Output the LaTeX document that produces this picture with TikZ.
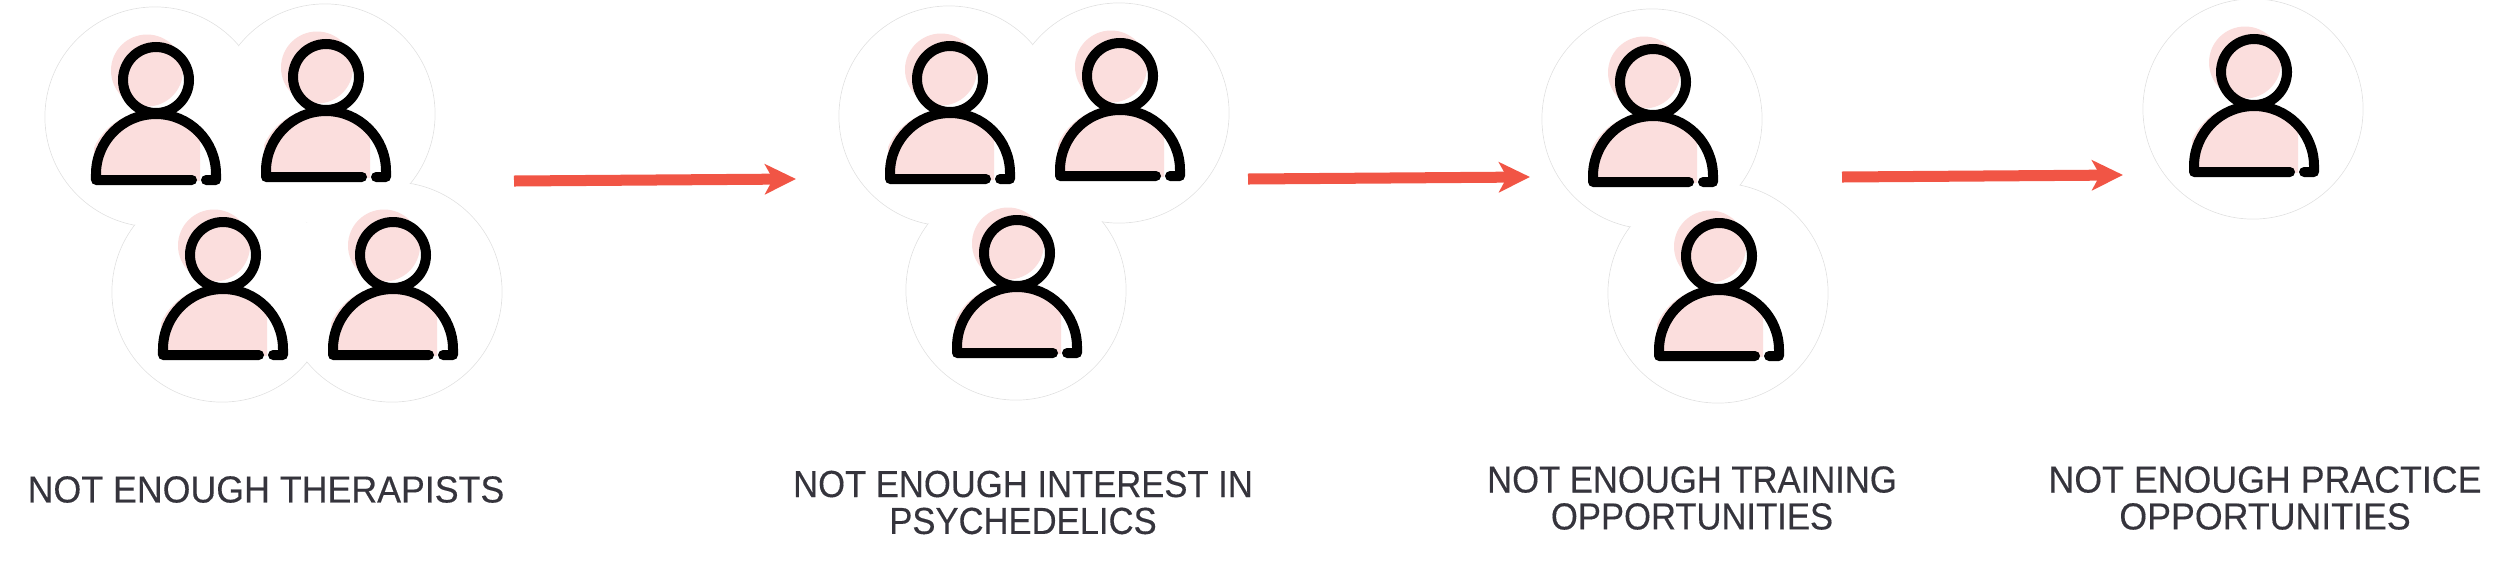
\documentclass[tikz,border=0pt]{standalone}
\usepackage{fontspec}
\setmainfont[FakeStretch=0.95,FakeBold=0.3]{Liberation Sans}
\newfontfamily\tighter[FakeStretch=0.92,FakeBold=0.3]{Liberation Sans}
\usetikzlibrary{arrows.meta}
\definecolor{blush}{HTML}{FBDEDD}
\definecolor{coral}{HTML}{F15545}
\definecolor{ink}{HTML}{35343C}
\definecolor{rim}{HTML}{E2E2E2}
\tikzset{
  halo/.style={draw=rim, fill=white, circle, line width=0.007cm, minimum size=2.2cm, inner sep=0pt},
  halocover/.style={fill=white, circle, minimum size=2.188cm, inner sep=0pt},
  flow/.style={coral, line width=0.11cm, -{Stealth[length=0.31cm, width=0.30cm, inset=0.08cm]}},
  caption/.style={text=ink, align=center, inner sep=0pt, font=\fontsize{10.7}{10.5}\selectfont},
  person/.pic={
    \fill[blush] (-9,-9.5) circle[radius=36];
    \begin{scope}
      \clip (-62,20) rectangle (44,100);
      \fill[blush] (-7,92) circle[radius=60];
    \end{scope}
    \draw[line width=0.10cm] (0,0) circle[radius=33];
    \draw[line width=0.10cm, line cap=round, line join=round] (36,100) -- (-60,100) -- (-60,94)
      arc[start angle=180, end angle=360, radius=60] -- (60,100) -- (50,100);
  }
}
\begin{document}
\begin{tikzpicture}[x=0.01cm, y=-0.01cm]
\useasboundingbox (0,0) rectangle (2500,566);

% white circles behind the people
\foreach \x/\y [count=\i] in {155/117, 325/114, 222/292, 392/292, 949/116, 1119/113, 1016/290, 1652/119, 1718/293, 2253/109}
  \node[halo] (halo\i) at (\x,\y) {};
\foreach \x/\y [count=\i] in {155/117, 325/114, 222/292, 392/292, 949/116, 1119/113, 1016/290, 1652/119, 1718/293, 2253/109}
  \node[halocover] (cover\i) at (\x,\y) {};

% people
\foreach \x/\y [count=\i] in {156/80, 326/77, 223/255, 393/255, 950/79, 1120/76, 1017/253, 1653/82, 1719/256, 2254/72}
  \pic (man\i) at (\x,\y) {person};

% arrows
\coordinate (a1) at (514,181);
\coordinate (b1) at (796,179);
\coordinate (a2) at (1248,179);
\coordinate (b2) at (1530,177);
\coordinate (a3) at (1842,177);
\coordinate (b3) at (2123,175);
\draw[flow] (a1) -- (b1);
\draw[flow] (a2) -- (b2);
\draw[flow] (a3) -- (b3);

% captions
\node[caption] (t1) at (266,489.5) {NOT ENOUGH THERAPISTS};
\node[caption] (t2) at (1023,502.5) {\tighter NOT ENOUGH INTEREST IN\\\tighter PSYCHEDELICS};
\node[caption] (t3) at (1692,498) {\tighter NOT ENOUGH TRAINING\\\tighter OPPORTUNITIES};
\node[caption] (t4) at (2265,498) {NOT ENOUGH PRACTICE\\OPPORTUNITIES};
\end{tikzpicture}
\end{document}
